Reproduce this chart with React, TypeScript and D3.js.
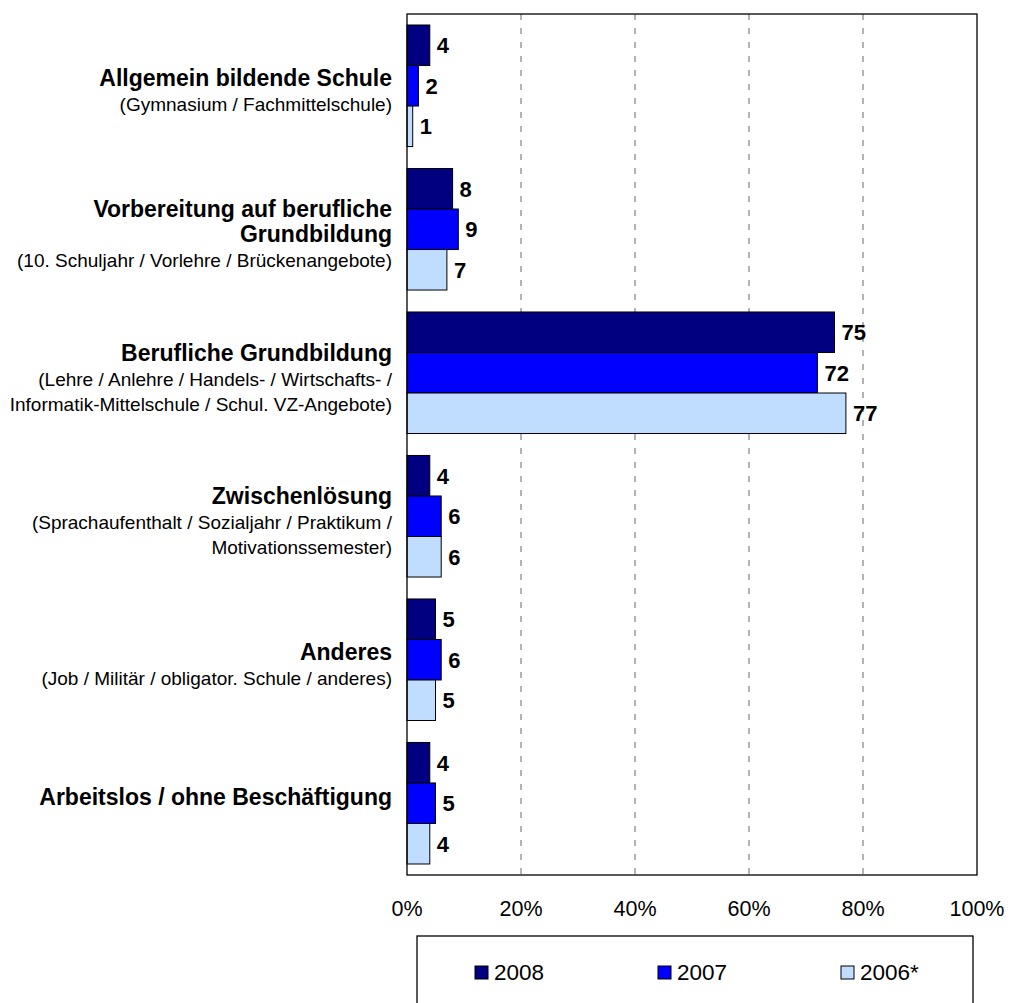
import React from "react";
import * as d3 from "d3";

const categories = [
  "Allgemein bildende Schule",
  "Vorbereitung auf berufliche Grundbildung",
  "Berufliche Grundbildung",
  "Zwischenlösung",
  "Anderes",
  "Arbeitslos / ohne Beschäftigung",
];
const titleLines = [
  ["Allgemein bildende Schule"],
  ["Vorbereitung auf berufliche", "Grundbildung"],
  ["Berufliche Grundbildung"],
  ["Zwischenlösung"],
  ["Anderes"],
  ["Arbeitslos / ohne Beschäftigung"],
];
const subLines = [
  ["(Gymnasium / Fachmittelschule)"],
  ["(10. Schuljahr / Vorlehre / Brückenangebote)"],
  ["(Lehre / Anlehre / Handels- / Wirtschafts- /", "Informatik-Mittelschule / Schul. VZ-Angebote)"],
  ["(Sprachaufenthalt / Sozialjahr / Praktikum /", "Motivationssemester)"],
  ["(Job / Militär / obligator. Schule / anderes)"],
  [],
];
const seriesNames = ["2008", "2007", "2006*"];
const values2008 = [4, 8, 75, 4, 5, 4];
const values2007 = [2, 9, 72, 6, 6, 5];
const values2006 = [1, 7, 77, 6, 5, 4];
const seriesValues = [values2008, values2007, values2006];
const xTicks = [0, 20, 40, 60, 80, 100];
const colors = ["#000080", "#0000FF", "#C0DCFF"];

const FONT = "'Liberation Sans', Arial, Helvetica, sans-serif";

export default function App() {
  const W = 1010;
  const H = 1003;
  const left = 407;
  const right = 977;
  const top = 14;
  const bottom = 875;

  const x = d3.scaleLinear().domain([0, 100]).range([left, right]);
  const y = d3
    .scaleBand<number>()
    .domain(d3.range(categories.length))
    .range([top, bottom])
    .paddingInner(0.153)
    .paddingOuter(0.0767);
  const ys = d3
    .scaleBand<number>()
    .domain(d3.range(seriesNames.length))
    .range([0, y.bandwidth()]);

  const L = 25;
  const legendX0 = 475;
  const legendStep = 183;

  return (
    <svg
      width={W}
      height={H}
      style={{ position: "absolute", left: 0, top: 0, background: "#fff" }}
      fontFamily={FONT}
    >
      <rect x={0} y={0} width={W} height={H} fill="#fff" />
      {/* gridlines */}
      {xTicks.slice(1, -1).map((t) => (
        <line
          key={"g" + t}
          x1={x(t)}
          x2={x(t)}
          y1={top}
          y2={bottom}
          stroke="#808080"
          strokeWidth={1.2}
          strokeDasharray="6,8"
        />
      ))}
      {/* bars */}
      {categories.map((c, ci) =>
        seriesValues.map((vals, si) => {
          const y0 = (y(ci) as number) + (ys(si) as number);
          return (
            <g key={c + si}>
              <rect
                x={x(0)}
                y={y0}
                width={x(vals[ci]) - x(0)}
                height={ys.bandwidth()}
                fill={colors[si]}
                stroke="#000"
                strokeWidth={1}
              />
              <text
                x={x(vals[ci]) + 7}
                y={y0 + ys.bandwidth() / 2 + 8}
                fontSize={22}
                fontWeight="bold"
                fill="#000"
              >
                {vals[ci]}
              </text>
            </g>
          );
        })
      )}
      {/* plot border */}
      <rect
        x={left}
        y={top}
        width={right - left}
        height={bottom - top}
        fill="none"
        stroke="#000"
        strokeWidth={1.3}
      />
      {/* category labels */}
      {categories.map((c, ci) => {
        const center = (y(ci) as number) + y.bandwidth() / 2;
        const lines = [
          ...titleLines[ci].map((t) => ({ t, b: true })),
          ...subLines[ci].map((t) => ({ t, b: false })),
        ];
        const n = lines.length;
        const first = n === 1 ? center + 2 : center + 13 - ((n - 1) * L) / 2;
        return (
          <g key={"l" + ci}>
            {lines.map((ln, i) => (
              <text
                key={i}
                x={392}
                y={first + i * L}
                textAnchor="end"
                fontSize={ln.b ? 23 : 19}
                fontWeight={ln.b ? "bold" : "normal"}
                fill="#000"
              >
                {ln.t}
              </text>
            ))}
          </g>
        );
      })}
      {/* x tick labels */}
      {xTicks.map((t) => (
        <text
          key={"t" + t}
          x={x(t)}
          y={916}
          textAnchor="middle"
          fontSize={21.5}
          fill="#000"
        >
          {t + "%"}
        </text>
      ))}
      {/* legend */}
      <rect x={417} y={936} width={556} height={90} fill="#fff" stroke="#000" strokeWidth={1.3} />
      {seriesNames.map((s, si) => (
        <g key={"lg" + s}>
          <rect
            x={legendX0 + si * legendStep}
            y={966}
            width={13}
            height={13}
            fill={colors[si]}
            stroke="#000"
            strokeWidth={1}
          />
          <text x={legendX0 + si * legendStep + 19} y={980} fontSize={22.5} fill="#000">
            {s}
          </text>
        </g>
      ))}
    </svg>
  );
}
